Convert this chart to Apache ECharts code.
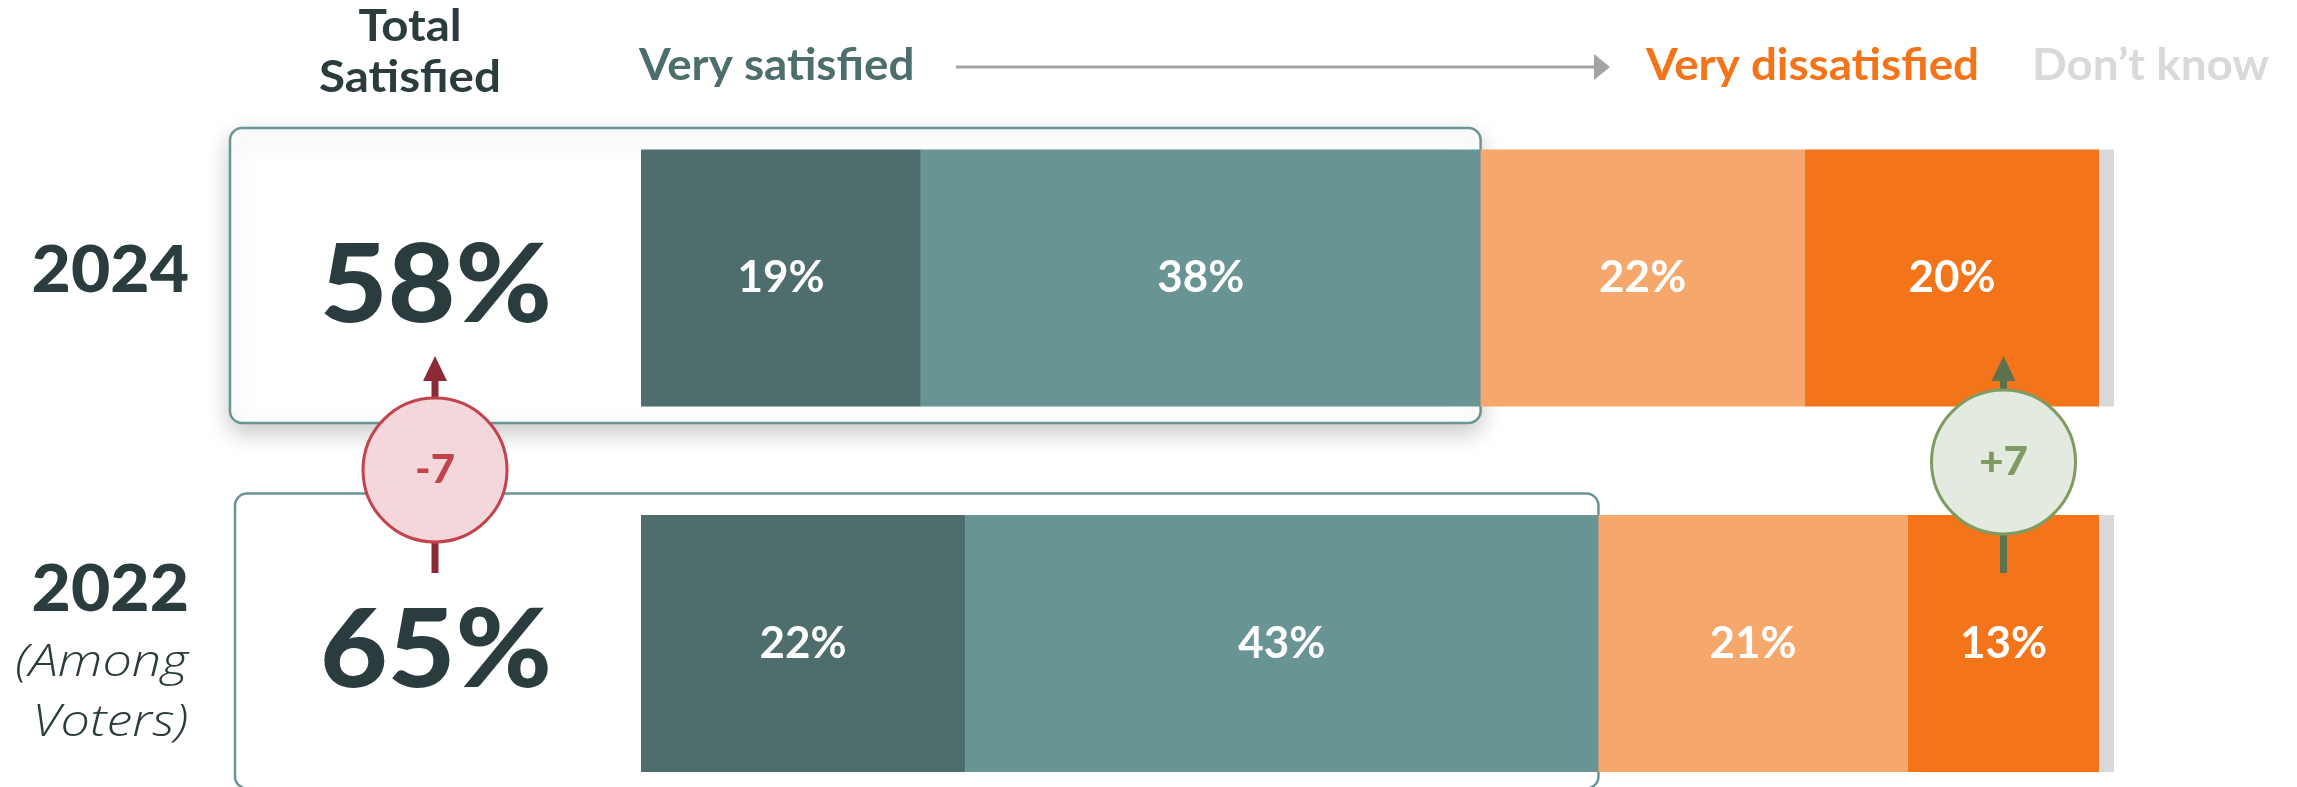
<!DOCTYPE html>
<html>
<head>
<meta charset="utf-8">
<script src="https://cdn.jsdelivr.net/npm/echarts@6/dist/echarts.min.js"></script>
<style>
  html, body { margin: 0; padding: 0; background: #ffffff; }
  #main { width: 2297px; height: 787px; }
</style>
</head>
<body>
<div id="main"></div>
<script>
  // data
  var years = ['2024', '2022']
  var verySatisfied = [19, 22]
  var somewhatSatisfied = [38, 43]
  var somewhatDissatisfied = [22, 21]
  var veryDissatisfied = [20, 13]
  var dontKnow = [1, 1]
  var totalSatisfied = [58, 65]
  var changes = ['-7', '+7']

  var dark = '#2b3c3e'
  var font = 'Lato'

  var chart = echarts.init(document.getElementById('main'))

  function barSeries(name, data, color, showLabel) {
    return {
      name: name,
      type: 'bar',
      stack: 'all',
      barWidth: 257,
      clip: false,
      data: data,
      itemStyle: { color: color },
      label: {
        show: showLabel,
        position: 'inside',
        formatter: '{c}%',
        color: '#ffffff',
        fontFamily: font,
        fontWeight: 'bold',
        fontSize: 44
      },
      emphasis: { disabled: true }
    }
  }

  var option = {
    animation: false,
    grid: { left: 641, right: 183, top: 278, bottom: 143.5 },
    xAxis: { type: 'value', min: 0, max: 100, show: false },
    yAxis: { type: 'category', data: years, inverse: true, boundaryGap: false, show: false },
    series: [
      barSeries('Very satisfied', verySatisfied, '#4d6e6d', true),
      barSeries('Somewhat satisfied', somewhatSatisfied, '#689494', true),
      barSeries('Somewhat dissatisfied', somewhatDissatisfied, '#f6a76c', true),
      barSeries('Very dissatisfied', veryDissatisfied, '#f4741a', true),
      barSeries('Don\u2019t know', dontKnow, '#d9d9d9', false)
    ]
  }
  chart.setOption(option)

  function px(v, cat) {
    return chart.convertToPixel({ gridIndex: 0 }, [v, cat])
  }

  // text placed at (x, y), stretched around its anchor
  function txt(text, x, y, align, f, color, sx) {
    return {
      type: 'text', x: x, y: y, scaleX: sx || 1, z: 10,
      style: { text: text, x: 0, y: 0, align: align, verticalAlign: 'middle', font: f, fill: color }
    }
  }

  var graphics = []

  // headers
  graphics.push(txt('Total', 410, 27, 'center', 'bold 44px ' + font, dark, 1.08))
  graphics.push(txt('Satisfied', 410, 78, 'center', 'bold 44px ' + font, dark, 1.08))
  graphics.push(txt('Very satisfied', 639, 66, 'left', 'bold 44px ' + font, '#4d6e6d', 1.04))
  graphics.push(txt('Very dissatisfied', 1646, 66, 'left', 'bold 44px ' + font, '#f4741a', 1.04))
  graphics.push(txt('Don\u2019t know', 2032, 66, 'left', 'bold 44px ' + font, '#d9d9d9', 1.04))
  graphics.push({ type: 'line', shape: { x1: 956, y1: 67, x2: 1596, y2: 67 }, style: { stroke: '#a3a3a3', lineWidth: 3 }, z: 5 })
  graphics.push({ type: 'polygon', shape: { points: [[1594, 54], [1610, 67], [1594, 80]] }, style: { fill: '#a3a3a3' }, z: 5 })

  // boxes with total satisfied
  var boxLeft = [230, 235]
  years.forEach(function (y, i) {
    var c = px(0, y)[1]
    var right = px(verySatisfied[i] + somewhatSatisfied[i], y)[0]
    graphics.push({
      type: 'rect',
      shape: { x: boxLeft[i], y: c - 150, width: right - boxLeft[i], height: 295, r: 12 },
      style: {
        fill: '#ffffff', stroke: '#6a9595', lineWidth: 2.5,
        shadowBlur: i === 0 ? 24 : 0, shadowOffsetY: i === 0 ? 9 : 0,
        shadowColor: i === 0 ? 'rgba(0,0,0,0.22)' : 'rgba(0,0,0,0)'
      },
      z: i === 0 ? -2 : -1
    })
    graphics.push(txt(totalSatisfied[i] + '%', 436, c + 9, 'center', '900 108px ' + font, dark, 1.08))
  })

  // year labels
  var c24 = px(0, '2024')[1]
  var c22 = px(0, '2022')[1]
  graphics.push(txt('2024', 189, c24 - 7, 'right', '900 64px ' + font, dark, 1.06))
  graphics.push(txt('2022', 189, c22 - 53, 'right', '900 64px ' + font, dark, 1.06))
  graphics.push(txt('(Among', 188, c22 + 20, 'right', 'italic 300 45px "Open Sans"', dark, 1.16))
  graphics.push(txt('Voters)', 188, c22 + 80, 'right', 'italic 300 45px "Open Sans"', dark, 1.16))

  // change bubbles
  function bubble(cx, cy, label, fill, stroke, arrow) {
    graphics.push({ type: 'line', shape: { x1: cx, y1: 380, x2: cx, y2: cy - 60 }, style: { stroke: arrow, lineWidth: 7 }, z: 8 })
    graphics.push({ type: 'polygon', shape: { points: [[cx - 12, 381], [cx, 356], [cx + 12, 381]] }, style: { fill: arrow }, z: 8 })
    graphics.push({ type: 'line', shape: { x1: cx, y1: cy + 60, x2: cx, y2: 573 }, style: { stroke: arrow, lineWidth: 7 }, z: 8 })
    graphics.push({ type: 'circle', shape: { cx: cx, cy: cy, r: 72 }, style: { fill: fill, stroke: stroke, lineWidth: 3 }, z: 9 })
    graphics.push(txt(label, cx, cy, 'center', '900 40px ' + font, stroke, 1.05))
  }
  bubble(435, 470, changes[0], '#f3d7db', '#c2434d', '#8c2a36')
  var plusX = px(100 - dontKnow[1] - veryDissatisfied[1] / 2, '2022')[0]
  bubble(plusX, 462, changes[1], '#e3eadf', '#7f9b62', '#5e714f')

  chart.setOption({ graphic: { elements: graphics } })
</script>
</body>
</html>
